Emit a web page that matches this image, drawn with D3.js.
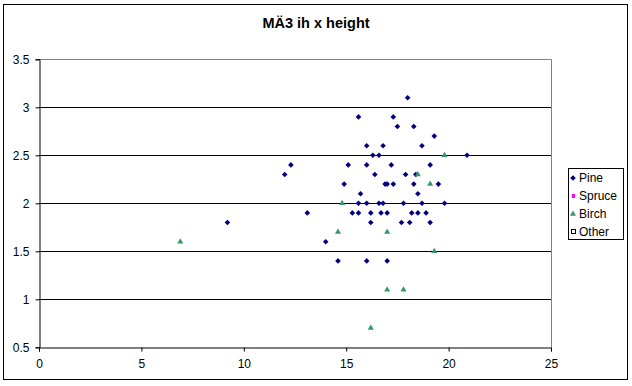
<!DOCTYPE html>
<html><head><meta charset="utf-8">
<script src="https://cdn.jsdelivr.net/npm/d3@7"></script>
<style>body{margin:0;background:#fff}svg{display:block}text{font-family:"Liberation Sans",Arial,sans-serif}</style>
</head><body>
<script>
const title = "MÄ3 ih x height";
const xTicks = [0, 5, 10, 15, 20, 25];
const yTicks = [0.5, 1, 1.5, 2, 2.5, 3, 3.5];
const seriesNames = ["Pine", "Spruce", "Birch", "Other"];
const pineX = [9.2,12.0,12.3,13.1,14.0,14.6,14.9,15.1,15.3,15.6,15.6,15.6,15.7,16.0,16.0,16.0,16.0,16.2,16.2,16.3,16.4,16.6,16.6,16.7,16.8,16.8,16.9,17.0,17.0,17.0,17.2,17.3,17.3,17.5,17.7,17.8,17.9,18.0,18.1,18.2,18.3,18.3,18.4,18.5,18.5,18.7,18.7,18.9,19.1,19.1,19.3,19.5,19.8,20.9];
const pineY = [1.8,2.3,2.4,1.9,1.6,1.4,2.2,2.4,1.9,1.9,2.9,2.0,2.1,2.6,2.4,2.0,1.4,1.9,1.8,2.5,2.3,2.5,2.0,1.9,2.6,2.0,2.2,2.2,1.9,1.4,2.4,2.9,2.2,2.8,1.8,2.0,2.3,3.1,1.8,1.9,2.8,2.2,2.3,2.1,1.9,2.6,2.0,1.9,2.4,1.8,2.7,2.2,2.0,2.5];
const birchX = [6.9,14.6,14.8,16.2,17.0,17.0,17.8,18.5,19.1,19.3,19.8];
const birchY = [1.6,1.7,2.0,0.7,1.7,1.1,1.1,2.3,2.2,1.5,2.5];
const spruceX = [], spruceY = [], otherX = [], otherY = [];

const W = 632, H = 386;
const svg = d3.select("body").append("svg").attr("width", W).attr("height", H);
svg.append("rect").attr("x", 3.5).attr("y", 4.5).attr("width", 624).attr("height", 375)
  .attr("fill", "#fff").attr("stroke", "#000");

const x = d3.scaleLinear().domain([0, 25]).range([39, 551]);
const y = d3.scaleLinear().domain([0.5, 3.5]).range([347.3, 59.3]);

svg.append("text").attr("x", 316).attr("y", 28).attr("text-anchor", "middle")
  .attr("font-size", 14.5).attr("font-weight", "bold").text(title);

// gridlines
svg.append("g").selectAll("line").data(yTicks.slice(1, -1)).join("line")
  .attr("x1", x(0)).attr("x2", x(25)).attr("y1", d => Math.round(y(d)) + 0.5).attr("y2", d => Math.round(y(d)) + 0.5)
  .attr("stroke", "#000");
// plot border (gray top/right)
svg.append("path").attr("d", `M${x(0)},${Math.round(y(3.5))+0.5}H${Math.round(x(25))+0.5}V${Math.round(y(0.5))}`)
  .attr("fill", "none").attr("stroke", "#808080");

const xAxis = svg.append("g").attr("transform", `translate(0,${Math.round(y(0.5))+0.5})`)
  .call(d3.axisBottom(x).tickValues(xTicks).tickSize(4).tickPadding(8).tickFormat(d3.format("d")));
const yAxis = svg.append("g").attr("transform", `translate(${Math.round(x(0))+0.5},0)`)
  .call(d3.axisLeft(y).tickValues(yTicks).tickSize(4).tickPadding(6).tickFormat(d => String(d)));
[xAxis, yAxis].forEach(g => {
  g.select(".domain").attr("stroke", "#000");
  g.selectAll(".tick line").attr("stroke", "#000");
  g.selectAll(".tick text").attr("font-size", 12).attr("fill", "#000").attr("font-family", "Liberation Sans, Arial, sans-serif");
});

const diamond = d3.symbol().type(d3.symbolDiamond2).size(20);
const tri = d3.symbol().type(d3.symbolTriangle).size(16);

const pine = pineX.map((v, i) => [v, pineY[i]]);
const birch = birchX.map((v, i) => [v, birchY[i]]);
svg.append("g").selectAll("path").data(pine).join("path")
  .attr("d", diamond).attr("transform", d => `translate(${x(d[0])},${y(d[1])})`).attr("fill", "#000080");
svg.append("g").selectAll("path").data(birch).join("path")
  .attr("d", tri).attr("transform", d => `translate(${x(d[0])},${y(d[1])})`).attr("fill", "#339966");

// legend
const lg = svg.append("g");
lg.append("rect").attr("x", 568.5).attr("y", 168.5).attr("width", 55).attr("height", 71)
  .attr("fill", "#fff").attr("stroke", "#000");
const ly = d3.scalePoint().domain(seriesNames).range([178, 232]);
seriesNames.forEach(n => {
  const cy = ly(n);
  if (n === "Pine") lg.append("path").attr("d", diamond).attr("transform", `translate(573,${cy})`).attr("fill", "#000080");
  if (n === "Spruce") lg.append("rect").attr("x", 572).attr("y", cy - 2).attr("width", 3).attr("height", 4).attr("fill", "#ff00ff");
  if (n === "Birch") lg.append("path").attr("d", tri).attr("transform", `translate(573,${cy})`).attr("fill", "#339966");
  if (n === "Other") lg.append("rect").attr("x", 571.5).attr("y", cy - 2.5).attr("width", 4).attr("height", 4).attr("fill", "#fff").attr("stroke", "#000");
  lg.append("text").attr("x", 579).attr("y", cy + 4).attr("font-size", 12).text(n);
});
</script>
</body></html>
